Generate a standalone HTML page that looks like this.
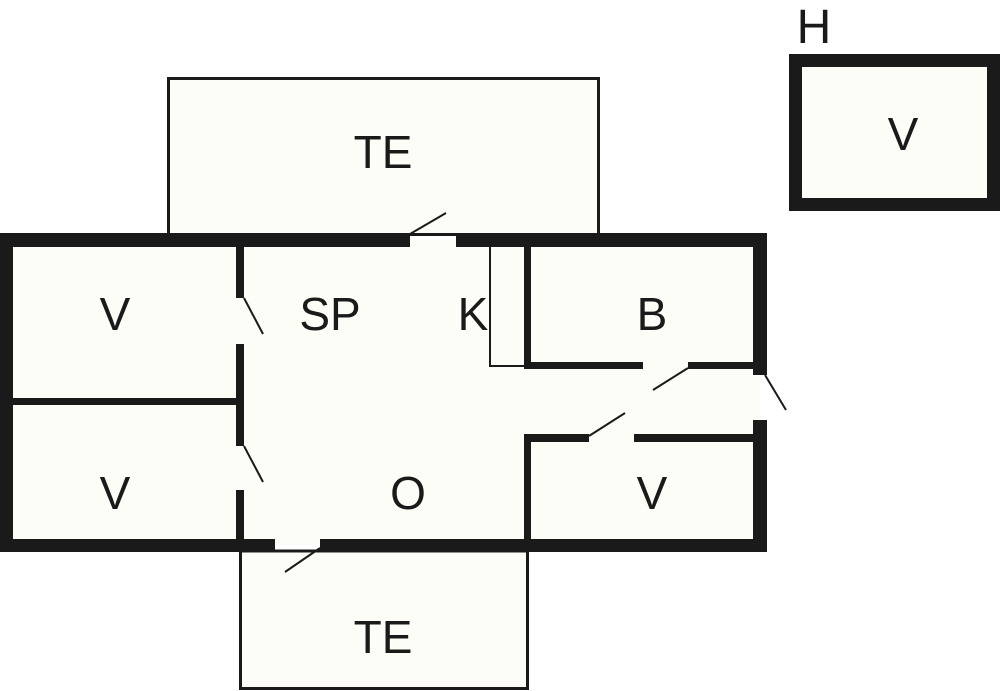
<!DOCTYPE html>
<html><head><meta charset="utf-8"><style>
html,body{margin:0;padding:0;background:#fff;}
svg{display:block;}
text{font-family:"Liberation Sans",sans-serif;font-size:46px;fill:#1a1a1a;text-anchor:middle;}
</style></head><body>
<svg width="1000" height="691" viewBox="0 0 1000 691" xmlns="http://www.w3.org/2000/svg">
<g fill="#fdfdf8" stroke="#1a1a1a" stroke-width="3">
<rect x="168.5" y="78.5" width="430" height="156"/>
<rect x="240.5" y="551" width="287" height="137.5"/>
</g>
<rect x="6" y="240" width="754" height="305" fill="#fdfdf8"/>
<rect x="796" y="60" width="198" height="145" fill="#fdfdf8"/>
<g fill="#1a1a1a">
<!-- outer walls -->
<rect x="0" y="233" width="410" height="14"/>
<rect x="456" y="233" width="311" height="14"/>
<rect x="0" y="233" width="13" height="319"/>
<rect x="0" y="539" width="275" height="13"/>
<rect x="320" y="539" width="447" height="13"/>
<rect x="753" y="233" width="14" height="142"/>
<rect x="753" y="420" width="14" height="132"/>
<!-- interior left -->
<rect x="236" y="246" width="8" height="52"/>
<rect x="236" y="344" width="8" height="102"/>
<rect x="236" y="490" width="8" height="50"/>
<rect x="12" y="398" width="226" height="7"/>
<!-- B room -->
<rect x="524" y="246" width="7" height="123"/>
<rect x="524" y="362" width="119" height="7"/>
<rect x="688" y="362" width="66" height="7"/>
<!-- lower V room -->
<rect x="524" y="434" width="65" height="8"/>
<rect x="634" y="434" width="120" height="8"/>
<rect x="524" y="434" width="7" height="106"/>
<!-- H box -->
<rect x="789" y="54" width="211" height="13"/>
<rect x="789" y="198" width="211" height="13"/>
<rect x="789" y="54" width="13" height="157"/>
<rect x="987" y="54" width="13" height="157"/>
</g>
<g stroke="#1a1a1a" stroke-width="2" fill="none">
<polyline points="490,246 490,366 524,366"/>
<line x1="410" y1="234" x2="446" y2="213"/>
<line x1="244" y1="298" x2="263" y2="334"/>
<line x1="244" y1="446" x2="263" y2="482"/>
<line x1="320" y1="548" x2="285" y2="572"/>
<line x1="688" y1="368" x2="653" y2="390"/>
<line x1="765" y1="375" x2="786" y2="410"/>
<line x1="589" y1="436" x2="625" y2="413"/>
</g>
<text x="383" y="168">TE</text>
<text x="115" y="330">V</text>
<text x="330" y="330">SP</text>
<text x="473" y="330">K</text>
<text x="652" y="330">B</text>
<text x="115" y="509">V</text>
<text x="408" y="509">O</text>
<text x="652" y="509">V</text>
<text x="383" y="653">TE</text>
<text x="903" y="150">V</text>
<text x="814" y="43" style="font-size:48px">H</text>
</svg>
</body></html>
